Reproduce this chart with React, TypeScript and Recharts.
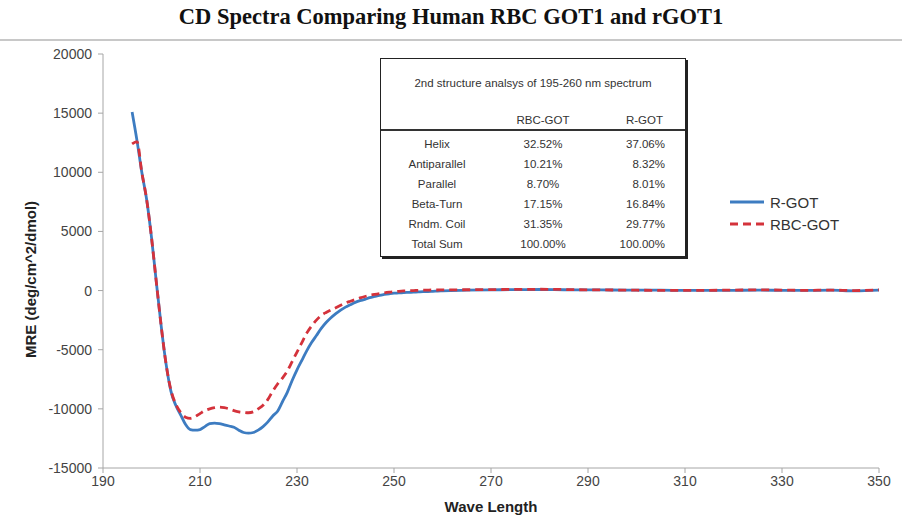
import { LineChart, Line, XAxis, YAxis } from 'recharts';

const wavelengths = [
  196, 197, 198, 199, 200, 201, 202, 203, 204, 205, 206, 207, 208, 209, 210, 211, 212, 213, 214, 215,
  216, 217, 218, 219, 220, 221, 222, 223, 224, 225, 226, 227, 228, 229, 230, 231, 232, 233, 234, 235,
  236, 237, 238, 239, 240, 241, 242, 243, 244, 245, 246, 247, 248, 249, 250, 251, 252, 253, 254, 255,
  256, 257, 258, 259, 260, 265, 270, 275, 280, 285, 290, 295, 300, 305, 310, 315, 320, 325, 330, 335,
  340, 345, 350,
];

const rGot = [
  15100, 12700, 10000, 7700, 4500, 700, -3000, -6200, -8500, -9700, -10500, -11300, -11750, -11800, -11750, -11500, -11250, -11200, -11250, -11350,
  -11450, -11550, -11800, -12000, -12050, -12000, -11800, -11500, -11100, -10600, -10200, -9400, -8600, -7600, -6700, -5900, -5100, -4400, -3800, -3200,
  -2700, -2300, -1950, -1650, -1400, -1200, -1000, -850, -750, -600, -500, -400, -330, -270, -220, -200, -170, -150, -130, -110,
  -90, -80, -60, -40, -20, 30, 60, 80, 90, 70, 60, 50, 40, 30, 20, 10, 20, 40, 20, 10,
  30, -20, 40,
];

const rbcGot = [
  12400, 12600, 10000, 7700, 4500, 700, -3000, -6200, -8400, -9600, -10300, -10700, -10800, -10650, -10400, -10150, -10000, -9900, -9850, -9900,
  -10000, -10150, -10250, -10300, -10330, -10250, -10000, -9700, -9200, -8500, -7900, -7400, -6800, -6000, -5200, -4400, -3600, -3000, -2500, -2100,
  -1850, -1650, -1450, -1250, -1050, -900, -760, -620, -500, -400, -320, -250, -190, -140, -100, -60, -30, -10, 0, 20,
  30, 40, 50, 50, 60, 70, 80, 100, 110, 90, 60, 50, 30, 20, 10, 20, 40, 60, 40, 20,
  40, 0, 60,
];

const xTicks = [190, 210, 230, 250, 270, 290, 310, 330, 350];
const yTicks = [-15000, -10000, -5000, 0, 5000, 10000, 15000, 20000];

const tableHeader = ['', 'RBC-GOT', 'R-GOT'];
const structures = ['Helix', 'Antiparallel', 'Parallel', 'Beta-Turn', 'Rndm. Coil', 'Total Sum'];
const rbcShares = ['32.52%', '10.21%', '8.70%', '17.15%', '31.35%', '100.00%'];
const rShares = ['37.06%', '8.32%', '8.01%', '16.84%', '29.77%', '100.00%'];

const BLUE = '#3d7cc1';
const RED = '#d4323b';
const AXIS = '#a6a6a6';
const SANS = '"Liberation Sans", Arial, sans-serif';

const data = wavelengths.map((w, i) => ({ wl: w, rGot: rGot[i], rbcGot: rbcGot[i] }));

function LegendBox() {
  const items = [
    { name: 'R-GOT', color: BLUE, dash: undefined },
    { name: 'RBC-GOT', color: RED, dash: '8 5' },
  ];
  return (
    <div style={{ position: 'absolute', left: 729, top: 191, fontFamily: SANS, fontSize: 15, color: '#333' }}>
      {items.map(it => (
        <div key={it.name} style={{ display: 'flex', alignItems: 'center', height: 22 }}>
          <svg width={36} height={10} style={{ marginRight: 5 }}>
            <line x1={1} y1={5} x2={35} y2={5} stroke={it.color} strokeWidth={3} strokeDasharray={it.dash} />
          </svg>
          <span>{it.name}</span>
        </div>
      ))}
    </div>
  );
}

const cell = (align: 'center' | 'right') => ({ textAlign: align, padding: 0 });

export default function App() {
  return (
    <div style={{ position: 'absolute', left: 0, top: 0, width: 902, height: 518, background: '#fff', overflow: 'hidden' }}>
      <div style={{ position: 'absolute', left: 0, top: 4, width: 902, textAlign: 'center', fontFamily: '"Liberation Serif", "Times New Roman", serif', fontWeight: 'bold', fontSize: 22.5, color: '#111' }}>
        CD Spectra Comparing Human RBC GOT1 and rGOT1
      </div>
      <div style={{ position: 'absolute', left: 0, top: 39, width: 902, height: 2, background: '#c8c8c8' }} />

      <div style={{ position: 'absolute', left: 0, top: 0 }}>
        <LineChart width={902} height={518} data={data} margin={{ top: 54, right: 23, left: 0, bottom: 0 }}>
          <XAxis
            dataKey="wl" type="number" domain={[190, 350]} ticks={xTicks} interval={0}
            height={50} stroke={AXIS} tickSize={5} tickMargin={3}
            tick={{ fontSize: 14, fill: '#444', fontFamily: SANS }}
            label={{ value: 'Wave Length', position: 'insideBottom', offset: 6, fontSize: 15, fontWeight: 'bold', fill: '#222', fontFamily: SANS }}
          />
          <YAxis
            type="number" domain={[-15000, 20000]} ticks={yTicks} interval={0}
            width={103} stroke={AXIS} tickSize={5} tickMargin={6}
            tick={{ fontSize: 14, fill: '#444', fontFamily: SANS }}
            label={{ value: 'MRE (deg/cm^2/dmol)', angle: -90, position: 'insideLeft', offset: 31, dy: 97, fontSize: 15, fontWeight: 'bold', fill: '#222', fontFamily: SANS }}
          />
          <Line type="monotone" dataKey="rGot" name="R-GOT" stroke={BLUE} strokeWidth={2.8} dot={false} isAnimationActive={false} />
          <Line type="monotone" dataKey="rbcGot" name="RBC-GOT" stroke={RED} strokeWidth={2.8} strokeDasharray="8 5" dot={false} isAnimationActive={false} />
        </LineChart>
      </div>

      <LegendBox />

      <div style={{
        position: 'absolute', left: 380, top: 58, width: 304, height: 197, background: '#fff',
        border: '1px solid #222', boxShadow: '2px 2px 0 #222', fontFamily: SANS, fontSize: 11.5, color: '#333',
      }}>
        <div style={{ position: 'absolute', top: 18, width: '100%', textAlign: 'center' }}>
          2nd structure analsys of 195-260 nm spectrum
        </div>
        <div style={{ position: 'absolute', top: 70, left: 0, width: '100%', borderTop: '2px solid #333' }} />
        <table style={{ position: 'absolute', left: 0, top: 51, width: 304, borderCollapse: 'collapse', fontSize: 11.5, color: '#333' }}>
          <colgroup>
            <col style={{ width: 112 }} />
            <col style={{ width: 100 }} />
            <col style={{ width: 92 }} />
          </colgroup>
          <tbody>
            <tr style={{ height: 20 }}>
              <td style={cell('center')}>{tableHeader[0]}</td>
              <td style={cell('center')}>{tableHeader[1]}</td>
              <td style={{ ...cell('right'), paddingRight: 22 }}>{tableHeader[2]}</td>
            </tr>
            <tr style={{ height: 4 }}><td colSpan={3} /></tr>
            {structures.map((s, i) => (
              <tr key={s} style={{ height: 20 }}>
                <td style={cell('center')}>{s}</td>
                <td style={cell('center')}>{rbcShares[i]}</td>
                <td style={{ ...cell('right'), paddingRight: 20 }}>{rShares[i]}</td>
              </tr>
            ))}
          </tbody>
        </table>
      </div>
    </div>
  );
}
